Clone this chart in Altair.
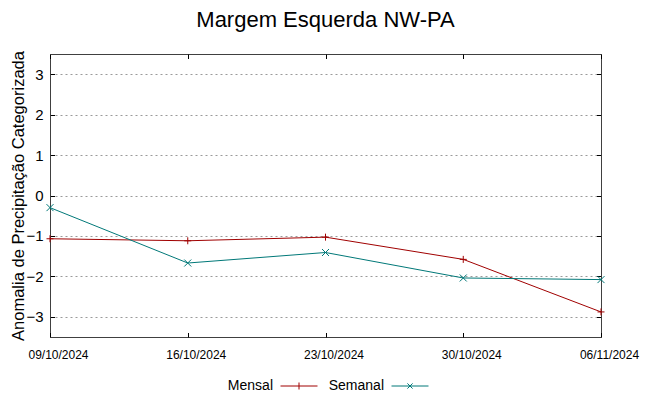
import altair as alt
import pandas as pd

# ---- data ----
dates = ["09/10/2024", "16/10/2024", "23/10/2024", "30/10/2024", "06/11/2024"]
series = ["Mensal", "Semanal"]
mensal = [-1.07, -1.12, -1.03, -1.58, -2.88]
semanal = [-0.30, -1.67, -1.41, -2.04, -2.08]
y_ticks = [-3, -2, -1, 0, 1, 2, 3]
colors = ["#a00000", "#007878"]

rows = []
for s, vals in zip(series, [mensal, semanal]):
    for d, v in zip(dates, vals):
        rows.append({"data": d, "serie": s, "valor": v})
df = pd.DataFrame(rows)

W, H = 551, 283
TS = 4.5
FONT = "Liberation Sans"

plus = "M-1,0H1M0,-1V1"
cross = "M-1,-1L1,1M-1,1L1,-1"
leg_plus = "M-1,0H1M0,-0.19V0.19"
leg_cross = "M-1,0H1M-0.14,-0.14L0.14,0.14M-0.14,0.14L0.14,-0.14"

yscale = alt.Scale(domain=[-3.5, 3.5], nice=False, zero=False)
xscale = alt.Scale(type="point", padding=0)
cscale = alt.Scale(domain=series, range=colors)

base = alt.Chart(df)

leg_kw = dict(title=None, orient="none", direction="horizontal",
              legendX=230, legendY=313,
              symbolSize=1369, symbolStrokeWidth=1, symbolOpacity=1,
              labelAlign="right", labelOffset={"expr": "-45"},
              labelFont=FONT, labelFontSize=14, labelColor="black",
              columnPadding=8)

legend_layer = base.mark_point(filled=False, strokeWidth=1, size=1369, opacity=0).encode(
    x=alt.X("data:N", sort=dates, scale=xscale, axis=None),
    y=alt.Y("valor:Q", scale=yscale, axis=None),
    color=alt.Color("serie:N", scale=cscale, legend=alt.Legend(**leg_kw)),
    shape=alt.Shape("serie:N", scale=alt.Scale(domain=series, range=[leg_plus, leg_cross]),
                    legend=alt.Legend(**leg_kw)),
)

lines = base.mark_line(strokeWidth=1).encode(
    x=alt.X("data:N", sort=dates, scale=xscale,
            axis=alt.Axis(orient="bottom", offset=-H, title=None, labelAngle=0,
                          labelFont=FONT, labelFontSize=12, labelColor="black",
                          labelPadding=H + 12 - TS, labelOffset=8, labelOverlap=False,
                          ticks=True, tickSize=TS, tickColor="black", domain=False, grid=False)),
    y=alt.Y("valor:Q", scale=yscale,
            axis=alt.Axis(orient="left", offset=-W, values=y_ticks, title=None,
                          labelFont=FONT, labelFontSize=15, labelColor="black",
                          labelPadding=W + 7 - TS, ticks=True, tickSize=TS, tickColor="black",
                          domain=False, grid=True, gridColor="#9a9a9a", gridDash=[2, 3],
                          gridWidth=1)),
    color=alt.Color("serie:N", scale=cscale),
)

pts_m = base.transform_filter(alt.datum.serie == series[0]).mark_point(
    filled=False, strokeWidth=1, size=49, opacity=1, shape=plus).encode(
    x=alt.X("data:N", sort=dates, scale=xscale,
            axis=alt.Axis(orient="top", offset=-H, title=None, labels=False,
                          ticks=True, tickSize=TS, tickColor="black", domain=False, grid=False)),
    y=alt.Y("valor:Q", scale=yscale,
            axis=alt.Axis(orient="right", offset=-W, values=y_ticks, labels=False,
                          ticks=True, tickSize=TS, tickColor="black", domain=False, grid=False,
                          title="Anomalia de Precipitação Categorizada",
                          titleFont=FONT, titleFontSize=16.5, titleFontWeight="normal",
                          titleColor="black", titleX=-32, titleY=H / 2, titleAngle=270,
                          titleAlign="center", titleBaseline="middle")),
    color=alt.Color("serie:N", scale=cscale),
)

pts_s = base.transform_filter(alt.datum.serie == series[1]).mark_point(
    filled=False, strokeWidth=1, size=49, opacity=1, shape=cross).encode(
    x=alt.X("data:N", sort=dates, scale=xscale, axis=None),
    y=alt.Y("valor:Q", scale=yscale, axis=None),
    color=alt.Color("serie:N", scale=cscale),
)

chart = alt.layer(legend_layer, lines, pts_m, pts_s).resolve_axis(
    x="independent", y="independent").properties(
    width=W, height=H,
    autosize=alt.AutoSizeParams(type="none"),
    padding={"left": 42, "top": 46, "right": 40, "bottom": 58},
    title=alt.Title("Margem Esquerda NW-PA", font=FONT, fontSize=22, fontWeight="normal",
                    color="black", anchor="middle", offset=19),
    background="white",
).configure_view(stroke="#404040", strokeWidth=1)

chart.save("out.html", embed_options={"renderer": "svg", "actions": False})
